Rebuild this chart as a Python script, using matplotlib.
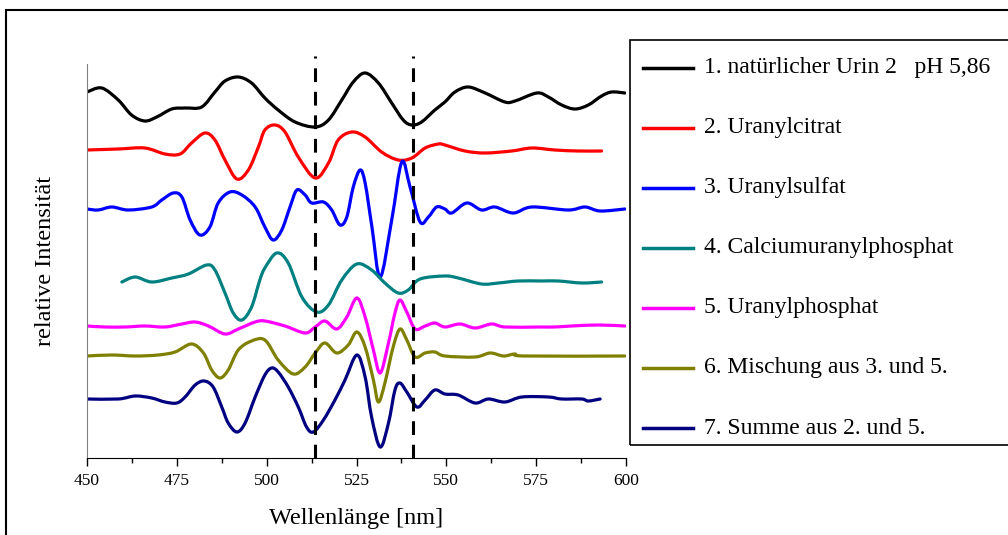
import numpy as np
import matplotlib
matplotlib.use('Agg')
import matplotlib.pyplot as plt
from matplotlib.lines import Line2D
from matplotlib.patches import Rectangle, PathPatch
from matplotlib.path import Path

plt.rcParams['font.family'] = ['Liberation Serif', 'DejaVu Serif']

# Spectra (wavelength in nm, intensity in arbitrary units incl. offset)
wl_1 = [450, 454.1, 458.7, 462.4, 466.1, 469.4, 473.6, 477.3, 481.9, 485.6, 488.4, 492.1, 495.8, 499.5,
        503.2, 507.9, 513.5, 517.2, 520.9, 524.1, 527.4, 531.1, 534.8, 538.0, 540.4, 543.1, 546.8, 549.6,
        552.4, 556.1, 560.8, 566.3, 569.1, 575.2, 578.4, 582.1, 585.8, 589.5, 593.2, 596.0, 599.7]
int_1 = [364, 368, 356, 341, 335, 339, 347, 348, 349, 364, 375, 379, 373, 358,
         346, 334, 329, 336, 356, 374, 383, 373, 353, 336, 331, 334, 346, 354,
         364, 369, 363, 354, 355, 363, 359, 351, 347, 351, 360, 364, 363]

wl_2 = [450, 458.7, 466.1, 471.7, 475.9, 479.1, 482.8, 485.6, 488.4, 491.7, 494.9, 497.7, 499.5, 502.3,
        505.1, 508.8, 513.5, 517.2, 519.9, 523.7, 527.4, 532.0, 536.6, 540.4, 544.1, 547.8, 549.6, 555.2,
        560.8, 568.2, 573.8, 580.2, 586.7, 593.2]
int_2 = [306, 307, 308, 302, 302, 313, 323, 316, 296, 277, 286, 309, 326, 331,
         324, 299, 278, 293, 316, 324, 319, 304, 296, 298, 308, 312, 311, 305,
         303, 305, 308, 306, 305, 305]

wl_3 = [450, 453.1, 456.9, 461.5, 468.0, 470.8, 474.0, 476.4, 478.7, 481.4, 484.2, 486.5, 489.8, 493.1,
        496.8, 499.5, 501.8, 504.2, 506.5, 508.4, 510.7, 512.5, 515.8, 518.1, 520.4, 522.3, 524.1, 526.0,
        527.4, 529.3, 531.6, 534.8, 537.6, 539.9, 542.7, 545.0, 547.3, 549.6, 551.5, 555.7, 559.8, 563.5,
        568.6, 573.8, 583.9, 588.6, 592.8, 599.7]
int_3 = [247, 246, 249, 246, 249, 256, 263, 259, 236, 221, 229, 253, 264, 261,
         249, 229, 216, 226, 249, 266, 261, 253, 254, 246, 231, 239, 269, 286,
         273, 229, 179, 236, 294, 269, 234, 239, 249, 247, 243, 253, 246, 249,
         243, 249, 246, 249, 245, 247]

wl_4 = [459.7, 463.4, 468.0, 473.6, 478.2, 483.3, 485.6, 488.4, 490.7, 493.1, 495.8, 498.1, 499.5, 502.8,
        506.0, 509.8, 513.9, 517.2, 520.9, 525.1, 529.2, 532.9, 536.6, 539.4, 542.7, 549.6, 553.3, 559.8,
        564.5, 570.0, 576.5, 581.2, 587.7, 593.2]
int_4 = [174, 179, 174, 178, 182, 191, 186, 163, 143, 136, 149, 176, 188, 203,
         193, 159, 144, 151, 176, 192, 186, 173, 163, 166, 177, 180, 178, 172,
         173, 175, 175, 175, 173, 174]

wl_5 = [450, 455.0, 460.6, 466.1, 471.7, 476.4, 480.1, 483.8, 488.4, 492.1, 496.8, 499.5, 505.1, 510.7,
        513.5, 516.2, 519.5, 522.3, 525.1, 527.4, 529.7, 531.6, 533.9, 535.7, 537.1, 539.0, 541.3, 544.1,
        546.8, 549.6, 553.8, 558.0, 562.6, 566.3, 575.6, 580.2, 584.9, 592.3, 599.7]
int_5 = [130, 129, 129, 130, 129, 132, 134, 130, 122, 127, 134, 135, 130, 123,
         129, 135, 127, 139, 158, 139, 106, 83, 113, 143, 156, 144, 127, 130,
         133, 129, 132, 128, 132, 129, 129, 129, 130, 131, 130]

wl_6 = [450, 456.9, 463.4, 469.8, 474.5, 479.1, 482.4, 484.7, 487.0, 489.3, 492.1, 495.8, 499.5, 503.2,
        507.4, 510.7, 513.5, 516.2, 519.5, 522.7, 525.1, 527.4, 529.7, 531.1, 532.9, 535.2, 537.1, 539.0,
        541.3, 544.1, 546.8, 549.6, 558.0, 562.2, 565.9, 569.1, 571.9, 599.7]
int_6 = [100, 101, 100, 101, 104, 112, 103, 86, 78, 86, 106, 115, 116, 96,
         82, 89, 103, 113, 103, 111, 124, 109, 76, 54, 73, 109, 127, 116,
         99, 103, 104, 100, 99, 103, 100, 102, 100, 100]

wl_7 = [450, 458.7, 463.4, 468.0, 471.7, 475.0, 477.3, 480.1, 482.6, 485.1, 487.5, 489.3, 491.7, 494.0,
        496.8, 499.5, 501.4, 503.2, 506.0, 508.8, 511.1, 513.0, 515.8, 519.0, 521.8, 525.1, 527.4, 529.2,
        531.6, 533.9, 535.7, 537.1, 539.0, 541.8, 544.1, 546.8, 549.6, 553.3, 558.0, 561.7, 566.3, 571.0,
        578.4, 582.1, 587.7, 589.5, 592.8]
int_7 = [57, 57, 60, 58, 54, 53, 59, 71, 75, 69, 49, 33, 24, 33,
         59, 81, 88, 84, 69, 49, 29, 24, 36, 56, 76, 101, 79, 39,
         9, 33, 66, 73, 64, 49, 56, 66, 62, 61, 53, 57, 54, 59,
         59, 57, 57, 55, 57]

labels = ['1. natürlicher Urin 2   pH 5,86', '2. Uranylcitrat', '3. Uranylsulfat',
          '4. Calciumuranylphosphat', '5. Uranylphosphat', '6. Mischung aus 3. und 5.',
          '7. Summe aus 2. und 5.']
colors = ['#000000', '#FF0000', '#0000FF', '#008080', '#FF00FF', '#808000', '#000080']
series = [(wl_1, int_1), (wl_2, int_2), (wl_3, int_3), (wl_4, int_4),
          (wl_5, int_5), (wl_6, int_6), (wl_7, int_7)]
marker_lines = [513.5, 540.7]


def smooth_path(x, y):
    # Excel-style "smoothed line": cubic Bezier segments through every point
    p = np.column_stack([x, y]).astype(float)
    ext = np.vstack([p[0], p, p[-1]])
    verts = [p[0]]
    codes = [Path.MOVETO]
    for i in range(len(p) - 1):
        p0, p1, p2, p3 = ext[i], ext[i + 1], ext[i + 2], ext[i + 3]
        verts += [p1 + (p2 - p0) / 6, p2 - (p3 - p1) / 6, p2]
        codes += [Path.CURVE4] * 3
    return Path(verts, codes)


fig = plt.figure(figsize=(10.08, 5.35), dpi=100)
ax = fig.add_axes([87 / 1008, 77 / 535, 539 / 1008, 394 / 535])

for (x, y), c in zip(series, colors):
    ax.add_patch(PathPatch(smooth_path(x, y), facecolor='none', edgecolor=c, lw=2.3,
                           joinstyle='round', capstyle='round'))

for xv in marker_lines:
    ax.plot([xv, xv], [-2, 400], color='black', lw=2.2, ls=(0, (4.5, 3.2)), clip_on=False)

ax.set_xlim(450, 600)
ax.set_ylim(-2, 392)
ax.set_xticks(np.arange(450, 601, 25))
ax.set_xticks(np.arange(450, 601, 12.5), minor=True)
ax.tick_params(axis='x', which='major', direction='out', length=5.5, width=1, labelsize=12.5, pad=5)
ax.tick_params(axis='x', which='minor', direction='out', length=3.5, width=1)
ax.set_yticks([])
ax.spines['top'].set_visible(False)
ax.spines['right'].set_visible(False)
ax.spines['left'].set_color('#808080')
ax.spines['bottom'].set_color('black')
ax.set_xlabel('Wellenlänge [nm]', fontsize=17.5, labelpad=14)
ax.set_ylabel('relative Intensität', fontsize=17.5, labelpad=22)

# outer chart border
fig.add_artist(Rectangle((6 / 1008, -0.05), 1.1, 1 - 10 / 535 + 0.05, transform=fig.transFigure,
                         fill=False, edgecolor='black', lw=1.5))

# legend box
fig.add_artist(Rectangle((630 / 1008, 1 - 445 / 535), 0.5, (445 - 40) / 535, transform=fig.transFigure,
                         fill=False, edgecolor='black', lw=1.2))
for i, (lab, c) in enumerate(zip(labels, colors)):
    yy = 1 - (68 + i * 60) / 535
    fig.add_artist(Line2D([643 / 1008, 693 / 1008], [yy, yy], transform=fig.transFigure,
                          color=c, lw=2.5))
    fig.text(704 / 1008, yy, lab, fontsize=17, va='center', ha='left')

fig.savefig('out.png', dpi=100)
